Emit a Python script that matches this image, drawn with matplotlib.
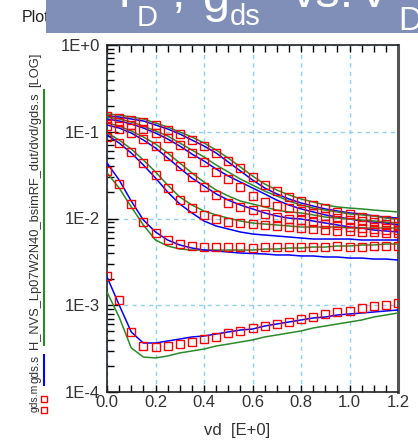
import matplotlib
matplotlib.use('Agg')
import matplotlib.pyplot as plt
from matplotlib.patches import Rectangle
from matplotlib.lines import Line2D
from matplotlib.ticker import FixedLocator, FixedFormatter, LogLocator, NullFormatter

plt.rcParams['font.family'] = ['Liberation Sans', 'DejaVu Sans']

##########################data
vd = [0.0, 0.05, 0.1, 0.15, 0.2, 0.25, 0.3, 0.35, 0.4, 0.45, 0.5, 0.55, 0.6,
      0.65, 0.7, 0.75, 0.8, 0.85, 0.9, 0.95, 1.0, 1.05, 1.1, 1.15, 1.2]

# measured gds (red squares), one list per gate bias
gds_m1 = [0.1519, 0.1440, 0.1366, 0.1295, 0.1196, 0.1047, 0.0942, 0.0803, 0.0685, 0.0569, 0.0460, 0.0382, 0.0301,
          0.0243, 0.0207, 0.0177, 0.0159, 0.0143, 0.0132, 0.0119, 0.0113, 0.0104, 0.00987, 0.00961, 0.00911]
gds_m2 = [0.1403, 0.1295, 0.1196, 0.1076, 0.0967, 0.0847, 0.0704, 0.0569, 0.0448, 0.0344, 0.0285, 0.0231, 0.0182,
          0.0155, 0.0139, 0.0132, 0.0122, 0.0116, 0.0107, 0.0101, 0.00961, 0.00936, 0.00911, 0.00864, 0.00820]
gds_m3 = [0.1165, 0.1076, 0.0967, 0.0825, 0.0685, 0.0525, 0.0403, 0.0301, 0.0231, 0.0187, 0.0151, 0.0136, 0.0125,
          0.0113, 0.0104, 0.00987, 0.00961, 0.00911, 0.00864, 0.00842, 0.00798, 0.00777, 0.00757, 0.00737, 0.00737]
gds_m4 = [0.0870, 0.0742, 0.0584, 0.0436, 0.0317, 0.0225, 0.0163, 0.0132, 0.0110, 0.00987, 0.00911, 0.00887, 0.00864,
          0.00842, 0.00820, 0.00798, 0.00777, 0.00757, 0.00737, 0.00718, 0.00718, 0.00699, 0.00699, 0.00681, 0.00681]
gds_m5 = [0.0353, 0.0250, 0.0147, 0.00911, 0.00681, 0.00565, 0.00508, 0.00482, 0.00469, 0.00469, 0.00469, 0.00469, 0.00457,
          0.00469, 0.00469, 0.00469, 0.00469, 0.00469, 0.00469, 0.00482, 0.00469, 0.00469, 0.00482, 0.00482, 0.00482]
gds_m6 = [0.00217, 0.00115, 0.000492, 0.000339, 0.000330, 0.000339, 0.000357, 0.000377, 0.000408, 0.000431, 0.000479,
          0.000505, 0.000547, 0.000576, 0.000608, 0.000641, 0.000694, 0.000732, 0.000793, 0.000836, 0.000859,
          0.000930, 0.000980, 0.00101, 0.00106]

# simulated gds.s (blue)
gds_s1 = [0.1519, 0.1479, 0.1403, 0.1330, 0.1196, 0.1076, 0.0942, 0.0803, 0.0685, 0.0569, 0.0448, 0.0353, 0.0278,
          0.0225, 0.0192, 0.0168, 0.0151, 0.0139, 0.0129, 0.0122, 0.0116, 0.0113, 0.0107, 0.0104, 0.0101]
gds_s2 = [0.1403, 0.1330, 0.1228, 0.1104, 0.0967, 0.0825, 0.0685, 0.0554, 0.0460, 0.0372, 0.0309, 0.0263, 0.0225,
          0.0192, 0.0163, 0.0143, 0.0129, 0.0119, 0.0110, 0.0104, 0.00987, 0.00936, 0.00911, 0.00887, 0.00842]
gds_s3 = [0.1196, 0.1104, 0.0967, 0.0803, 0.0650, 0.0498, 0.0382, 0.0293, 0.0237, 0.0192, 0.0163, 0.0143, 0.0129,
          0.0116, 0.0107, 0.0101, 0.00987, 0.00936, 0.00887, 0.00842, 0.00798, 0.00777, 0.00737, 0.00718, 0.00699]
gds_s4 = [0.0917, 0.0742, 0.0569, 0.0414, 0.0293, 0.0202, 0.0147, 0.0116, 0.00936, 0.00820, 0.00757, 0.00699, 0.00663,
          0.00645, 0.00629, 0.00612, 0.00596, 0.00580, 0.00580, 0.00580, 0.00580, 0.00565, 0.00565, 0.00565, 0.00565]
gds_s5 = [0.0436, 0.0278, 0.0159, 0.00961, 0.00699, 0.00565, 0.00495, 0.00457, 0.00433, 0.00422, 0.00411, 0.00400,
          0.00395, 0.00390, 0.00380, 0.00380, 0.00370, 0.00370, 0.00360, 0.00360, 0.00350, 0.00350, 0.00341, 0.00341,
          0.00332]
gds_s6 = [0.00212, 0.00101, 0.000492, 0.000367, 0.000367, 0.000387, 0.000408, 0.000431, 0.000442, 0.000466, 0.000492,
          0.000518, 0.000532, 0.000576, 0.000608, 0.000641, 0.000676, 0.000713, 0.000732, 0.000772, 0.000793,
          0.000814, 0.000836, 0.000859, 0.000882]

# H_NVS_Lp07W2N40_bsimRF dut/dvd/gds.s (green)
gds_h1 = [0.1602, 0.1560, 0.1479, 0.1403, 0.1261, 0.1134, 0.0993, 0.0870, 0.0742, 0.0616, 0.0498, 0.0392, 0.0309,
          0.0250, 0.0213, 0.0187, 0.0168, 0.0155, 0.0143, 0.0136, 0.0132, 0.0129, 0.0125, 0.0122, 0.0119]
gds_h2 = [0.1479, 0.1403, 0.1295, 0.1165, 0.1020, 0.0893, 0.0742, 0.0616, 0.0512, 0.0414, 0.0344, 0.0285, 0.0243,
          0.0207, 0.0182, 0.0159, 0.0143, 0.0132, 0.0125, 0.0119, 0.0113, 0.0110, 0.0107, 0.0101, 0.00987]
gds_h3 = [0.1261, 0.1165, 0.1020, 0.0870, 0.0722, 0.0569, 0.0436, 0.0335, 0.0263, 0.0213, 0.0182, 0.0159, 0.0147,
          0.0136, 0.0125, 0.0119, 0.0116, 0.0110, 0.0104, 0.0101, 0.00987, 0.00961, 0.00936, 0.00911, 0.00887]
gds_h4 = [0.0967, 0.0803, 0.0633, 0.0472, 0.0344, 0.0243, 0.0177, 0.0143, 0.0122, 0.0110, 0.0101, 0.00936, 0.00887,
          0.00864, 0.00842, 0.00820, 0.00798, 0.00798, 0.00798, 0.00798, 0.00777, 0.00777, 0.00777, 0.00777, 0.00777]
gds_h5 = [0.0335, 0.0225, 0.0136, 0.00842, 0.00565, 0.00482, 0.00445, 0.00433, 0.00433, 0.00433, 0.00433, 0.00433,
          0.00433, 0.00445, 0.00445, 0.00457, 0.00457, 0.00469, 0.00469, 0.00482, 0.00482, 0.00495, 0.00495, 0.00508,
          0.00508]
gds_h6 = [0.00142, 0.000732, 0.000322, 0.000253, 0.000247, 0.000260, 0.000282, 0.000297, 0.000313, 0.000339, 0.000357,
          0.000377, 0.000398, 0.000431, 0.000454, 0.000479, 0.000505, 0.000547, 0.000576, 0.000608, 0.000641,
          0.000676, 0.000732, 0.000772, 0.000814]

measured = [gds_m1, gds_m2, gds_m3, gds_m4, gds_m5, gds_m6]
sim_blue = [gds_s1, gds_s2, gds_s3, gds_s4, gds_s5, gds_s6]
sim_green = [gds_h1, gds_h2, gds_h3, gds_h4, gds_h5, gds_h6]

x_ticks = [0.0, 0.2, 0.4, 0.6, 0.8, 1.0, 1.2]
x_labels = ['0.0', '0.2', '0.4', '0.6', '0.8', '1.0', '1.2']
y_ticks = [1e-4, 1e-3, 1e-2, 1e-1, 1e0]
y_labels = ['1E-4', '1E-3', '1E-2', '1E-1', '1E+0']

GREEN = '#2a8a2a'
BLUE = '#0000ff'
RED = '#ff0000'

W, H = 418, 442

#############################figure
fig = plt.figure(figsize=(W / 100, H / 100), dpi=100)
ax = fig.add_axes([107 / W, 1 - 392 / H, 291 / W, 347 / H])

for g, b, m in zip(sim_green, sim_blue, measured):
    ax.plot(vd, g, color=GREEN, lw=1.1, zorder=3)
    ax.plot(vd, b, color=BLUE, lw=1.1, zorder=3)
    ax.plot(vd, m, ls='none', marker='s', ms=5.2, mfc='none', mec=RED, mew=1.0, zorder=4)

ax.set_yscale('log')
ax.set_xlim(0, 1.2)
ax.set_ylim(1e-4, 1)

ax.xaxis.set_major_locator(FixedLocator(x_ticks))
ax.xaxis.set_major_formatter(FixedFormatter(x_labels))
ax.xaxis.set_minor_locator(FixedLocator(vd))
ax.yaxis.set_major_locator(FixedLocator(y_ticks))
ax.yaxis.set_major_formatter(FixedFormatter(y_labels))
ax.yaxis.set_minor_locator(LogLocator(base=10, subs=range(2, 10), numticks=20))
ax.yaxis.set_minor_formatter(NullFormatter())

ax.tick_params(which='both', direction='in', top=True, bottom=True, left=True, right=False,
               labelsize=12, width=1, colors='black')
ax.tick_params(axis='x', which='both', length=5, pad=2)
ax.tick_params(axis='y', which='major', length=8, pad=5)
ax.tick_params(axis='y', which='minor', length=5)
for lab in ax.get_xticklabels() + ax.get_yticklabels():
    lab.set_color('#333333')

ax.grid(True, which='major', color='#8fd0f5', linestyle=(0, (3, 3)), linewidth=1)
ax.set_axisbelow(True)
for s in ['left', 'top', 'bottom']:
    ax.spines[s].set_linewidth(1.2)
    ax.spines[s].set_color('#222222')
ax.spines['right'].set_linewidth(2.2)
ax.spines['right'].set_color('#555555')

fig.text(237 / W, 1 - 430 / H, 'vd  [E+0]', fontsize=12, color='#333333', ha='center', va='center')

#########################vertical legend on the left
lab_x = 35 / W
fig.text(lab_x, 1 - 70 / H, '[LOG]', rotation=90, fontsize=9.3, ha='center', va='center', color='#333333')
fig.text(lab_x, 1 - 221 / H, 'H_NVS_Lp07W2N40_bsimRF_dut/dvd/gds.s', rotation=90, fontsize=9.3,
         ha='center', va='center', color='#333333')
fig.text(lab_x, 1 - 369 / H, 'gds.s', rotation=90, fontsize=8.5, ha='center', va='center', color='#333333')
fig.text(lab_x, 1 - 398 / H, 'gds.m', rotation=90, fontsize=7.5, ha='center', va='center', color='#333333')
fig.add_artist(Line2D([44 / W, 44 / W], [1 - 90 / H, 1 - 345 / H], color=GREEN, lw=1.5))
fig.add_artist(Line2D([44 / W, 44 / W], [1 - 355 / H, 1 - 385 / H], color=BLUE, lw=1.5))
fig.add_artist(Line2D([44 / W, 44 / W], [1 - 399 / H, 1 - 410 / H], ls='none', marker='s', ms=4,
                      mfc='none', mec=RED, mew=1.0))

#########################banner title
fig.text(22 / W, 1 - 17 / H, 'Plot', fontsize=11.5, va='center', color='#222222', zorder=1)
fig.patches.append(Rectangle((46 / W, 1 - 33 / H), 372 / W, 33 / H, transform=fig.transFigure,
                             facecolor='#7f8fb8', edgecolor='none', zorder=2))
title_parts = [('I', 118, 7, 35), ('D', 137, 26, 21), (',', 172, 7, 35), ('g', 203, 12, 35),
               ('ds', 230, 25, 21), ('vs.', 292, 7, 35), ('V', 358, 7, 35), ('D', 398, 30, 24)]
for txt, px, py, fs in title_parts:
    fig.text(px / W, 1 - py / H, txt, fontsize=fs, color='white', ha='left', va='baseline', zorder=3)

fig.savefig('out.png', dpi=100)
